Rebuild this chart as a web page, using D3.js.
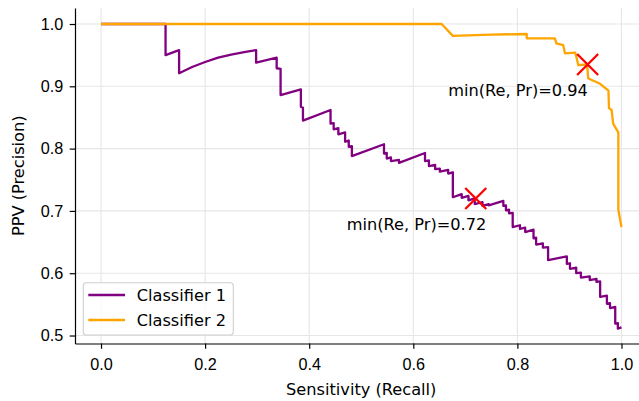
<!DOCTYPE html>
<html>
<head>
<meta charset="utf-8">
<script src="https://cdn.jsdelivr.net/npm/d3@7"></script>
<style>
  body { margin: 0; background: #fff; }
  svg { display: block; font-family: "DejaVu Sans", sans-serif; }
  .tick text { font-size: 16.2px; fill: #000; }
  .tick line { stroke: #000; stroke-width: 1.2; }
  .domain { stroke: #000; stroke-width: 1.2; }
</style>
</head>
<body>
<div id="chart"></div>
<script>
// --------------------------------------
//  Data
// --------------------------------------

// [recall, precision] pairs
const classifier1 = [
  [0, 1.0], [0.124, 1.0], [0.124, 0.950], [0.150, 0.958], [0.150, 0.921],
  [0.175, 0.931], [0.200, 0.939], [0.225, 0.946], [0.250, 0.951], [0.275, 0.955],
  [0.298, 0.958], [0.298, 0.938], [0.3375, 0.946], [0.3375, 0.929], [0.345, 0.928],
  [0.345, 0.886], [0.384, 0.895], [0.384, 0.867], [0.388, 0.866], [0.388, 0.845],
  [0.441, 0.862], [0.441, 0.840], [0.447, 0.841], [0.447, 0.831], [0.456, 0.833],
  [0.456, 0.823], [0.469, 0.826], [0.469, 0.811], [0.476, 0.813], [0.476, 0.803],
  [0.482, 0.804], [0.482, 0.788], [0.5437, 0.807], [0.5437, 0.792], [0.549, 0.793],
  [0.549, 0.784], [0.557, 0.786], [0.557, 0.780], [0.5725, 0.782], [0.5725, 0.777],
  [0.6225, 0.793], [0.6225, 0.780], [0.630, 0.781], [0.630, 0.772], [0.642, 0.774],
  [0.642, 0.767], [0.651, 0.768], [0.651, 0.763], [0.667, 0.766], [0.667, 0.760],
  [0.676, 0.762], [0.676, 0.722], [0.693, 0.727], [0.693, 0.721], [0.706, 0.724],
  [0.706, 0.717], [0.718, 0.720], [0.718, 0.711], [0.733, 0.714], [0.733, 0.708],
  [0.745, 0.711], [0.745, 0.709], [0.773, 0.716], [0.773, 0.708], [0.778, 0.709],
  [0.778, 0.701], [0.784, 0.702], [0.784, 0.696], [0.791, 0.697], [0.791, 0.674],
  [0.805, 0.677], [0.805, 0.671], [0.815, 0.673], [0.815, 0.666], [0.831, 0.670],
  [0.831, 0.656], [0.836, 0.657], [0.836, 0.646], [0.849, 0.648], [0.849, 0.641],
  [0.859, 0.642], [0.859, 0.621], [0.895, 0.627], [0.895, 0.615], [0.901, 0.616],
  [0.901, 0.607], [0.913, 0.609], [0.913, 0.600], [0.922, 0.601], [0.922, 0.593],
  [0.939, 0.595], [0.939, 0.589], [0.952, 0.591], [0.952, 0.586], [0.959, 0.587],
  [0.959, 0.562], [0.972, 0.564], [0.972, 0.551], [0.978, 0.552], [0.978, 0.544],
  [0.988, 0.546], [0.988, 0.519], [0.993, 0.520], [0.993, 0.511], [1.0, 0.513]
];

const classifier2 = [
  [0, 1.0], [0.6545, 1.0], [0.676, 0.981], [0.75, 0.983], [0.818, 0.984],
  [0.818, 0.977], [0.872, 0.977], [0.875, 0.969], [0.888, 0.966], [0.8915, 0.953],
  [0.911, 0.954], [0.914, 0.945], [0.917, 0.934], [0.934, 0.935], [0.936, 0.913],
  [0.946, 0.909], [0.959, 0.904], [0.975, 0.893], [0.976, 0.865], [0.981, 0.862],
  [0.984, 0.840], [0.991, 0.830], [0.994, 0.826], [0.994, 0.702], [1.0, 0.674]
];

const seriesNames = ["Classifier 1", "Classifier 2"];
const seriesColors = ["purple", "orange"];

// best points where recall and precision meet
const bestPoints = [[0.72, 0.72], [0.935, 0.935]];
const bestLabels = ["min(Re, Pr)=0.72", "min(Re, Pr)=0.94"];
const labelRecall = [0.472, 0.667];

const xTicks = [0.0, 0.2, 0.4, 0.6, 0.8, 1.0];
const yTicks = [0.5, 0.6, 0.7, 0.8, 0.9, 1.0];

// --------------------------------------
//  Margin and canvas
// --------------------------------------

const width = 639;
const height = 401;
const fontSize = 16.2;
const margin = {top: 8, right: -8.5, bottom: 57.5, left: 75};
const innerwidth = width - margin.left - margin.right;
const innerheight = height - margin.top - margin.bottom;

const svg = d3.select("#chart")
  .append("svg")
    .attr("width", width)
    .attr("height", height);

svg.append("rect")
  .attr("width", width)
  .attr("height", height)
  .attr("fill", "#fff");

const inner = svg
  .append("g")
    .attr("transform", `translate(${margin.left}, ${margin.top})`);

// --------------------------------------
//  Scales
// --------------------------------------

const x = d3.scaleLinear()
  .domain([-0.05, 1.05])
  .range([0, innerwidth]);

const y = d3.scaleLinear()
  .domain([0.4872, 1.0257])
  .range([innerheight, 0]);

// --------------------------------------
//  Grid
// --------------------------------------

inner.append("g")
  .selectAll("line")
  .data(xTicks)
  .join("line")
    .attr("x1", d => x(d))
    .attr("x2", d => x(d))
    .attr("y1", 0)
    .attr("y2", innerheight)
    .attr("stroke", "#e6e6e6")
    .attr("stroke-width", 1.1);

inner.append("g")
  .selectAll("line")
  .data(yTicks)
  .join("line")
    .attr("x1", 0)
    .attr("x2", innerwidth)
    .attr("y1", d => y(d))
    .attr("y2", d => y(d))
    .attr("stroke", "#e6e6e6")
    .attr("stroke-width", 1.1);

// --------------------------------------
//  Curves
// --------------------------------------

const line = d3.line()
  .x(d => x(d[0]))
  .y(d => y(d[1]));

[classifier1, classifier2].forEach((data, i) => {
  inner.append("path")
    .attr("d", line(data))
    .attr("fill", "none")
    .attr("stroke", seriesColors[i])
    .attr("stroke-width", 2.3)
    .attr("stroke-linejoin", "round");
});

// --------------------------------------
//  Markers and labels
// --------------------------------------

const arm = 10.5;
bestPoints.forEach((d, i) => {
  const cx = x(d[0]);
  const cy = y(d[1]);
  inner.append("path")
    .attr("d", `M${cx - arm},${cy - arm}L${cx + arm},${cy + arm}M${cx - arm},${cy + arm}L${cx + arm},${cy - arm}`)
    .attr("stroke", "red")
    .attr("stroke-width", 2.3)
    .attr("fill", "none");

  inner.append("text")
    .attr("x", x(labelRecall[i]))
    .attr("y", y(d[1] - 0.05))
    .attr("font-size", fontSize)
    .attr("fill", "#000")
    .text(bestLabels[i]);
});

// --------------------------------------
//  Axes
// --------------------------------------

inner.append("g")
    .attr("transform", `translate(0, ${innerheight})`)
    .call(d3.axisBottom(x)
      .tickValues(xTicks)
      .tickFormat(d3.format(".1f"))
      .tickSizeInner(5.3)
      .tickSizeOuter(0)
      .tickPadding(9.7));

inner.append("g")
    .call(d3.axisLeft(y)
      .tickValues(yTicks)
      .tickFormat(d3.format(".1f"))
      .tickSizeInner(5.3)
      .tickSizeOuter(0)
      .tickPadding(6.5));

svg.append("text")
  .attr("x", margin.left + innerwidth / 2)
  .attr("y", 395)
  .attr("text-anchor", "middle")
  .attr("font-size", fontSize)
  .text("Sensitivity (Recall)");

svg.append("text")
  .attr("transform", `translate(23.5, ${margin.top + innerheight / 2}) rotate(-90)`)
  .attr("text-anchor", "middle")
  .attr("font-size", fontSize)
  .text("PPV (Precision)");

// --------------------------------------
//  Legend
// --------------------------------------

const legend = inner.append("g")
  .attr("transform", `translate(${83.3 - margin.left}, ${282.7 - margin.top})`);

legend.append("rect")
  .attr("width", 150)
  .attr("height", 52.3)
  .attr("rx", 3)
  .attr("fill", "#fff")
  .attr("fill-opacity", 0.8)
  .attr("stroke", "#d0d0d0")
  .attr("stroke-width", 1.1);

seriesNames.forEach((name, i) => {
  legend.append("line")
    .attr("x1", 5)
    .attr("x2", 41.7)
    .attr("y1", 12.3 + i * 25)
    .attr("y2", 12.3 + i * 25)
    .attr("stroke", seriesColors[i])
    .attr("stroke-width", 2.3);

  legend.append("text")
    .attr("x", 53.4)
    .attr("y", 18.8 + i * 25)
    .attr("font-size", fontSize)
    .text(name);
});
</script>
</body>
</html>
